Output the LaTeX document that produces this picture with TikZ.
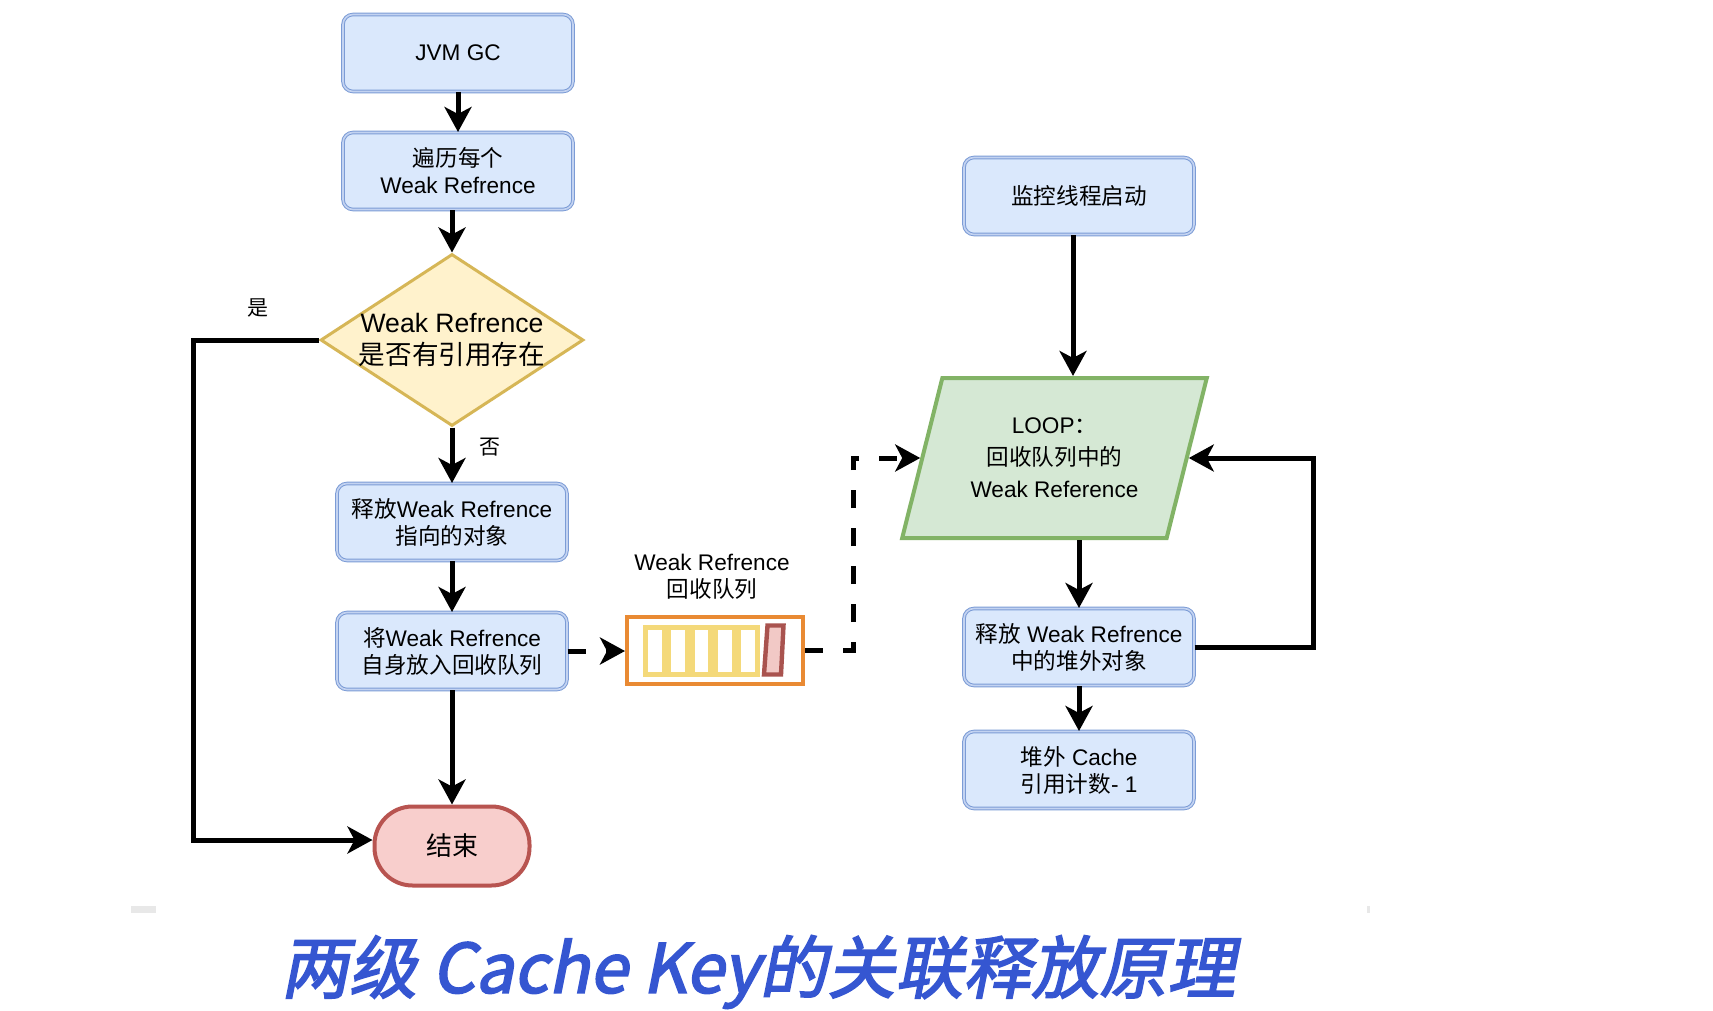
\documentclass[tikz,border=0pt]{standalone}
\usepackage{fontspec}
\setmainfont{Liberation Sans}
\newfontfamily\cjk{Noto Sans CJK SC}
\newfontfamily\titlefont{Noto Sans CJK SC}[FakeSlant=0.2,FakeBold=2.5]
\usetikzlibrary{arrows.meta,shapes.geometric,calc}
\newcommand\zh[1]{{\cjk #1}}
\definecolor{bfill}{HTML}{DAE8FC}
\definecolor{bline}{HTML}{7C9CD6}
\definecolor{bdouble}{HTML}{C3D3F1}
\definecolor{yfill}{HTML}{FFF2CC}
\definecolor{yline}{HTML}{D6B656}
\definecolor{gfill}{HTML}{D5E8D4}
\definecolor{gline}{HTML}{82B366}
\definecolor{rfill}{HTML}{F8CECC}
\definecolor{rline}{HTML}{B85450}
\definecolor{qline}{HTML}{E98A33}
\definecolor{qy}{HTML}{F4D97A}
\definecolor{qr}{HTML}{A9534F}
\definecolor{qrf}{HTML}{F2C9C6}
\definecolor{ttl}{HTML}{3556D1}
\begin{document}
\begin{tikzpicture}[x=0.5pt,y=-0.5pt,
  box/.style={draw=bline, line width=0.5pt, double=bdouble, double distance=0.8pt, fill=bfill, rounded corners=5pt, minimum width=115pt, minimum height=38.5pt, inner sep=0pt, align=center, font=\fontsize{11.3}{13.5}\selectfont},
  arr/.style={line width=2.5pt, -{Stealth[length=12.5pt,width=13.5pt,inset=3.5pt]}},
  dsh/.style={arr, dash pattern=on 9pt off 10pt},
  lbl/.style={font=\fontsize{10.5}{12}\selectfont\cjk, inner sep=0pt}]
\useasboundingbox (0,0) rectangle (1713,1011);
\fill[white] (0,0) rectangle (1713,1011);
% left column
\node[box] (gc) at (458,53) {JVM GC};
\node[box] (trav) at (458,171) {\zh{遍历每个}\\Weak Refrence};
\node[diamond, draw=yline, fill=yfill, line width=1.5pt, minimum width=131.5pt, minimum height=86pt, inner sep=0pt,
  label={[font=\fontsize{13.3}{16}\selectfont, align=center, inner sep=0pt]center:Weak Refrence\\\zh{是否有引用存在}}] (dec) at (452,340) {};
\node[box] (rel) at (452,522) {\zh{释放}Weak Refrence\\\zh{指向的对象}};
\node[box] (put) at (452,651) {\zh{将}Weak Refrence\\\zh{自身放入回收队列}};
\node[draw=rline, fill=rfill, line width=2pt, rounded corners=19pt, minimum width=77.5pt, minimum height=39.5pt, inner sep=0pt, font=\fontsize{13}{15}\selectfont\cjk] (end) at (452,846) {结束};
\node[lbl] (yes) at (258,308) {是};
\node[lbl] (no) at (490,447) {否};
% queue
\node[align=center, font=\fontsize{11.3}{13.5}\selectfont, inner sep=0pt] (qlab) at (712,577) {Weak Refrence\\\zh{回收队列}};
\node[draw=qline, line width=2pt, fill=white, minimum width=88pt, minimum height=33.5pt, inner sep=0pt] (queue) at (715,650) {};
\foreach \i in {0,...,4} \draw[qy, line width=2.4pt] ({645.7+23.33*\i},627.5) rectangle ({664.2+23.33*\i},674.5);
\draw[qr, line width=2.2pt, fill=qrf] (767.5,625.5) -- (783.5,625.5) -- (781,674.5) -- (764,674.5) -- cycle;
% right column
\node[box] (mon) at (1079,196) {\zh{监控线程启动}};
\node[trapezium, trapezium left angle=69.4, trapezium right angle=110.6, trapezium stretches=true, draw=gline, fill=gfill, line width=2pt, minimum width=152.5pt, minimum height=80pt, inner sep=0pt, align=center, font=\fontsize{11.3}{16}\selectfont] (loop) at (1054.5,458) {LOOP\zh{：}\\\zh{回收队列中的}\\Weak Reference};
\node[box] (off) at (1079,647) {\zh{释放} Weak Refrence\\\zh{中的堆外对象}};
\node[box] (cnt) at (1079,770) {\zh{堆外} Cache\\\zh{引用计数}- 1};
% connectors
\draw[arr] (gc) -- (trav);
\draw[arr] (dec.north |- trav.south) -- (dec.north);
\draw[arr] (dec.south) -- (rel.north);
\draw[arr] (rel) -- (put);
\draw[arr] (put) -- (end);
\coordinate (yc) at (193,340);
\draw[arr] (dec.west) -- (yc) |- ([yshift=3pt]end.west);
\draw[dsh] (put.east) -- (put.east -| queue.west);
\coordinate (qc) at (853,651);
\draw[dsh] (queue.east) -- (queue.east -| qc) |- (loop.west);
\draw[arr] ([xshift=-3pt]mon.south) -- ([xshift=-3pt]mon.south |- loop.north);
\draw[arr] (loop.south -| off.north) -- (off.north);
\coordinate (rc) at (1313,647);
\draw[arr] (off.east) -- (off.east -| rc) |- (loop.east);
\draw[arr] (off) -- (cnt);
% marks and title
\fill[gray!18] (131,906) rectangle (156,913);
\fill[gray!18] (1367,906) rectangle (1370,913);
\node[font=\titlefont\fontsize{34}{40}\selectfont, text=ttl, inner sep=0pt] (title) at (758,972) {两级 Cache Key的关联释放原理};
\end{tikzpicture}
\end{document}
